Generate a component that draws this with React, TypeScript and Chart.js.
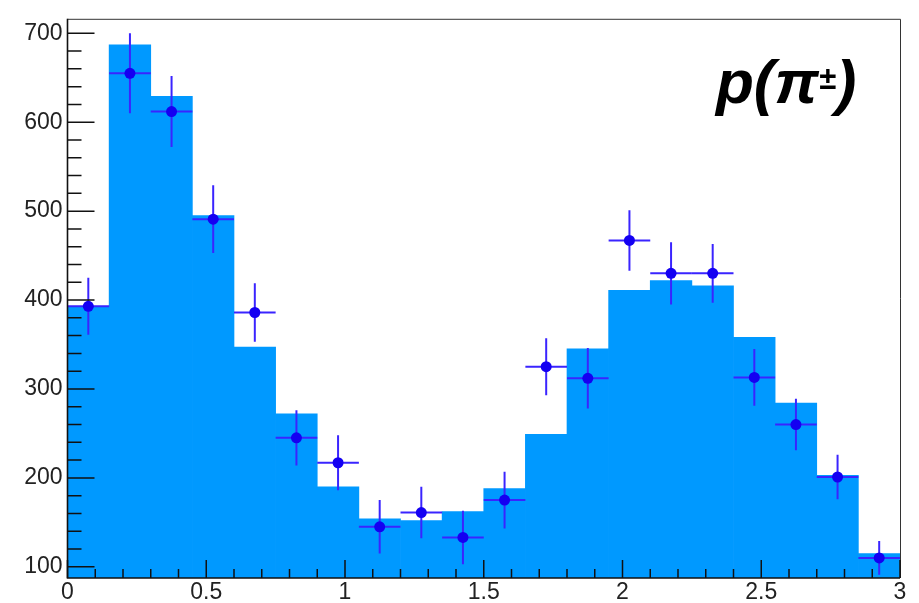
import React, { useEffect, useRef } from "react";
import { Chart, registerables } from "chart.js";

Chart.register(...registerables);

const binCenters = [0.075, 0.225, 0.375, 0.525, 0.675, 0.825, 0.975, 1.125, 1.275, 1.425, 1.575, 1.725, 1.875, 2.025, 2.175, 2.325, 2.475, 2.625, 2.775, 2.925];
const binHalfWidth = 0.075;
const histValues = [392, 687, 629, 495, 347, 272, 190, 154, 152, 162, 188, 249, 345, 411, 422, 416, 358, 284, 203, 115];
const dataValues = [393, 655, 612, 491, 386, 245, 217, 145, 161, 133, 175, 325, 312, 467, 430, 430, 313, 260, 201, 110];
const dataErrors = [32, 45, 40, 38, 33, 31, 31, 30, 29, 30, 32, 32, 34, 34, 35, 33, 32, 29, 25, 19];
const xTickValues = [0, 0.5, 1, 1.5, 2, 2.5, 3];
const xTickLabels = ["0", "0.5", "1", "1.5", "2", "2.5", "3"];
const yTickValues = [100, 200, 300, 400, 500, 600, 700];
const yTickLabels = ["100", "200", "300", "400", "500", "600", "700"];
const xMinorStep = 0.1;
const yMinorStep = 20;
const titleText = "p(π";
const titleSup = "±";

const BAR_COLOR = "#0099ff";
const POINT_COLOR = "#1400f2";
const ERR_COLOR = "#3a24ff";

const errorBarPlugin = {
  id: "errorBars",
  beforeDatasetDraw(chart: any, args: any) {
    if (args.index !== 1) return;
    const { ctx, scales } = chart;
    const xs = scales.x;
    const ys = scales.y;
    ctx.save();
    ctx.beginPath();
    ctx.rect(chart.chartArea.left, chart.chartArea.top, chart.chartArea.right - chart.chartArea.left, chart.chartArea.bottom - chart.chartArea.top);
    ctx.clip();
    ctx.strokeStyle = ERR_COLOR;
    ctx.lineWidth = 2;
    binCenters.forEach((c, i) => {
      const v = dataValues[i];
      const e = dataErrors[i];
      const px = xs.getPixelForValue(c);
      const py = ys.getPixelForValue(v);
      ctx.beginPath();
      ctx.moveTo(px, ys.getPixelForValue(v - e));
      ctx.lineTo(px, ys.getPixelForValue(v + e));
      ctx.moveTo(xs.getPixelForValue(c - binHalfWidth), py);
      ctx.lineTo(xs.getPixelForValue(c + binHalfWidth), py);
      ctx.stroke();
    });
    ctx.restore();
  },
};

const framePlugin = {
  id: "rootFrame",
  afterDraw(chart: any) {
    const { ctx, chartArea, scales } = chart;
    const { left, right, top, bottom } = chartArea;
    const xs = scales.x;
    const ys = scales.y;
    ctx.save();
    ctx.strokeStyle = "#333";
    ctx.lineWidth = 1;
    ctx.beginPath();
    ctx.moveTo(left, top + 0.5);
    ctx.lineTo(right + 0.5, top + 0.5);
    ctx.lineTo(right + 0.5, bottom);
    ctx.stroke();
    ctx.strokeStyle = "#111";
    ctx.lineWidth = 1.6;
    ctx.beginPath();
    ctx.moveTo(left, top);
    ctx.lineTo(left, bottom);
    ctx.lineTo(right, bottom);
    ctx.stroke();
    ctx.lineWidth = 1.5;
    ctx.beginPath();
    yTickValues.forEach((v) => {
      const p = ys.getPixelForValue(v);
      ctx.moveTo(left, p);
      ctx.lineTo(left + 27, p);
    });
    for (let v = yTickValues[0]; v < yTickValues[yTickValues.length - 1]; v += yMinorStep) {
      if ((v - yTickValues[0]) % 100 === 0) continue;
      const p = ys.getPixelForValue(v);
      ctx.moveTo(left, p);
      ctx.lineTo(left + 14, p);
    }
    xTickValues.forEach((v) => {
      const p = xs.getPixelForValue(v);
      ctx.moveTo(p, bottom);
      ctx.lineTo(p, bottom - 18);
    });
    for (let k = 1; k < 30; k++) {
      if (k % 5 === 0) continue;
      const p = xs.getPixelForValue(k * xMinorStep);
      ctx.moveTo(p, bottom);
      ctx.lineTo(p, bottom - 9);
    }
    ctx.stroke();
    ctx.restore();
  },
};

export default function App() {
  const ref = useRef<HTMLCanvasElement | null>(null);
  useEffect(() => {
    if (!ref.current) return;
    const chart = new Chart(ref.current, {
      type: "bar",
      data: {
        datasets: [
          {
            type: "bar",
            data: binCenters.map((x, i) => ({ x, y: histValues[i] })),
            backgroundColor: BAR_COLOR,
            borderWidth: 0,
            barPercentage: 1,
            categoryPercentage: 1,
            order: 2,
          } as any,
          {
            type: "scatter",
            data: binCenters.map((x, i) => ({ x, y: dataValues[i] })),
            backgroundColor: POINT_COLOR,
            borderColor: POINT_COLOR,
            pointRadius: 5.5,
            borderWidth: 0,
            order: 1,
          } as any,
        ],
      },
      options: {
        animation: false,
        responsive: false,
        events: [],
        layout: { padding: { left: 0, right: 19, top: 12, bottom: 0 } },
        plugins: { legend: { display: false }, tooltip: { enabled: false }, title: { display: false } },
        scales: {
          x: {
            type: "linear",
            min: 0,
            max: 3,
            offset: false,
            grid: { display: false, drawTicks: false, offset: false },
            border: { display: false },
            afterBuildTicks: (s: any) => {
              s.ticks = xTickValues.map((v) => ({ value: v }));
            },
            afterFit: (s: any) => {
              s.height = 25;
            },
            ticks: {
              autoSkip: false,
              maxRotation: 0,
              padding: 1,
              color: "#222",
              font: { family: "'Liberation Sans', Arial, sans-serif", size: 23 },
              callback: (v: any) => {
                const i = xTickValues.indexOf(Number(v));
                return i >= 0 ? xTickLabels[i] : "";
              },
            },
          },
          y: {
            type: "linear",
            min: 87.4,
            max: 716.3,
            grid: { display: false, drawTicks: false },
            border: { display: false },
            afterBuildTicks: (s: any) => {
              s.ticks = yTickValues.map((v) => ({ value: v }));
            },
            afterFit: (s: any) => {
              s.width = 67.5;
            },
            ticks: {
              autoSkip: false,
              padding: 5,
              color: "#222",
              font: { family: "'Liberation Sans', Arial, sans-serif", size: 23 },
              callback: (v: any) => {
                const i = yTickValues.indexOf(Number(v));
                return i >= 0 ? yTickLabels[i] : "";
              },
            },
          },
        },
      },
      plugins: [errorBarPlugin, framePlugin],
    });
    return () => chart.destroy();
  }, []);

  return (
    <div style={{ position: "absolute", left: 0, top: 0, width: 919, height: 603, background: "#fff" }}>
      <canvas ref={ref} width={919} height={603} style={{ display: "block" }} />
      <div
        style={{
          position: "absolute",
          left: 716,
          top: 44,
          fontFamily: "'Liberation Sans', Arial, sans-serif",
          fontWeight: "bold",
          fontStyle: "italic",
          fontSize: 62,
          lineHeight: "70px",
          color: "#000",
          whiteSpace: "nowrap",
        }}
      >
        {titleText}
        <span style={{ fontSize: 31, verticalAlign: "14px" }}>{titleSup}</span>
        )
      </div>
    </div>
  );
}
